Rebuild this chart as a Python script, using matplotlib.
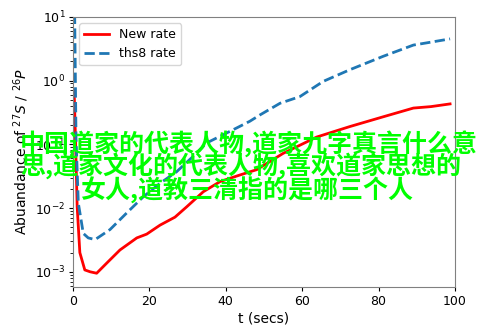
import matplotlib
matplotlib.use("Agg")
import matplotlib.pyplot as plt

# data
t_new = [0.3, 0.7, 1.1, 1.8, 3.1, 4.5, 6.2, 9, 12.3, 16.7, 19.3, 22.8, 26.7, 29.8,
         34.1, 38.5, 43.7, 48.1, 55, 63.8, 72.5, 81.2, 89.1, 93.7, 98.7]
y_new = [0.71, 0.1, 0.0105, 0.002, 0.00107, 0.001, 0.00095, 0.0014, 0.0022, 0.0034,
         0.0039, 0.0054, 0.0072, 0.0105, 0.018, 0.026, 0.033, 0.040, 0.072, 0.13,
         0.19, 0.27, 0.37, 0.39, 0.43]

t_ths8 = [0.4, 0.8, 1.4, 2.7, 4, 5.8, 9.7, 14, 18.4, 22.8, 27.1, 31.5, 35, 42,
          46.3, 49, 54.2, 59.4, 65.5, 72.5, 81.2, 89.1, 92.6, 98.7]
y_ths8 = [20, 0.126, 0.012, 0.004, 0.0034, 0.0032, 0.0046, 0.0083, 0.015, 0.0245,
          0.037, 0.065, 0.105, 0.17, 0.23, 0.29, 0.44, 0.56, 0.97, 1.48, 2.4, 3.6,
          3.9, 4.5]

labels = ["New rate", "ths8 rate"]
overlay_lines = ["中国道家的代表人物,道家九字真言什么意",
                 "思,道家文化的代表人物,喜欢道家思想的",
                 "女人,道教三清指的是哪三个人"]

fig = plt.figure(figsize=(4.93, 3.29), dpi=100)
ax = fig.add_axes([0.148, 0.128, 0.775, 0.821])
ax.plot(t_new, y_new, color="red", lw=2, label=labels[0])
ax.plot(t_ths8, y_ths8, color="#1f77b4", lw=2, ls="--", label=labels[1])
ax.set_yscale("log")
ax.set_xlim(0, 100)
ax.set_ylim(5.8e-4, 10)
ax.set_xticks([0, 20, 40, 60, 80, 100])
ax.tick_params(labelsize=9, length=3, pad=2.5)
ax.tick_params(which="minor", length=2)
for s in ax.spines.values():
    s.set_color("#808080")
ax.set_xlabel("t (secs)", fontsize=10, labelpad=3)
ax.set_ylabel(r"Abuandance of $^{27}S$ / $^{26}P$", fontsize=10, labelpad=3)
ax.legend(loc="upper left", fontsize=9)

fam = ["Noto Sans CJK SC", "DejaVu Sans"]
ys = [144, 167, 190]
xs = [20, 20, 80]
for line, x, y in zip(overlay_lines, xs, ys):
    fig.text(x / 493, 1 - y / 329, line, color="#00ff00", fontsize=18,
             family=fam, fontweight="bold", ha="left", va="center")

fig.savefig("out.png", dpi=100)
